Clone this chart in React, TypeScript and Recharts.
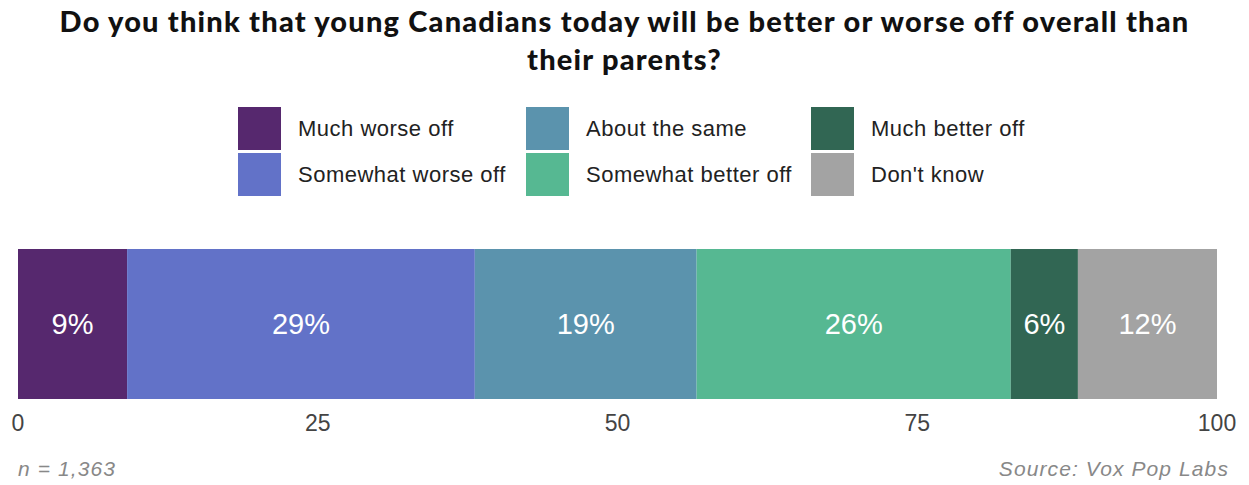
import React from 'react';
import { BarChart, Bar, XAxis, YAxis, LabelList, Legend } from 'recharts';

// Data
const categories = ['All respondents'];
const seriesNames = [
  'Much worse off',
  'Somewhat worse off',
  'About the same',
  'Somewhat better off',
  'Much better off',
  "Don't know",
];
const seriesKeys = ['muchWorse', 'somewhatWorse', 'same', 'somewhatBetter', 'muchBetter', 'dontKnow'];
const seriesValues = [9.1, 29.0, 18.5, 26.2, 5.6, 11.6];
const seriesColors = ['#56286e', '#6272c8', '#5b93ad', '#56b892', '#316653', '#a3a3a3'];
const xTicks = [0, 25, 50, 75, 100];

const title = 'Do you think that young Canadians today will be better or worse off overall than their parents?';
const noteLeft = 'n = 1,363';
const noteRight = 'Source: Vox Pop Labs';

const data = categories.map((c) => {
  const row: Record<string, any> = { name: c };
  seriesKeys.forEach((k, i) => {
    row[k] = seriesValues[i];
  });
  return row;
});

const LABEL_FONT = '"Liberation Sans", Arial, sans-serif';

const LegendContent = (props: any) => {
  const payload = [...(props.payload || [])].sort(
    (a: any, b: any) => seriesNames.indexOf(a.value) - seriesNames.indexOf(b.value)
  );
  return (
    <div
      style={{
        display: 'grid',
        gridTemplateRows: '43px 43px',
        gridTemplateColumns: '288px 285px 220px',
        gridAutoFlow: 'column',
        rowGap: 3,
        marginLeft: 238,
      }}
    >
      {payload.map((p: any, i: number) => (
        <div key={i} style={{ display: 'flex', alignItems: 'center' }}>
          <div style={{ width: 43, height: 43, background: p.color, flex: '0 0 43px' }} />
          <span
            style={{
              marginLeft: 17,
              fontFamily: LABEL_FONT,
              fontSize: 22,
              letterSpacing: 0.5,
              color: '#222',
              whiteSpace: 'nowrap',
            }}
          >
            {p.value}
          </span>
        </div>
      ))}
    </div>
  );
};

export default function App() {
  return (
    <div
      style={{
        position: 'absolute',
        left: 0,
        top: 0,
        width: 1249,
        height: 485,
        background: '#fff',
        overflow: 'hidden',
      }}
    >
      <div
        style={{
          position: 'absolute',
          top: 2,
          left: 40,
          width: 1169,
          textAlign: 'center',
          fontFamily: 'Lato, sans-serif',
          fontWeight: 900,
          fontSize: 29,
          letterSpacing: 1.2,
          lineHeight: '38px',
          color: '#111',
        }}
      >
        {title}
      </div>
      <div style={{ position: 'absolute', left: 0, top: 0 }}>
        <BarChart
          width={1249}
          height={485}
          data={data}
          layout="vertical"
          margin={{ top: 249, right: 32, bottom: 56, left: 18 }}
          barCategoryGap={0}
        >
          <XAxis
            type="number"
            domain={[0, 100]}
            ticks={xTicks}
            axisLine={false}
            tickLine={false}
            tickMargin={10}
            tick={{ fill: '#444', fontSize: 23, fontFamily: LABEL_FONT }}
            interval={0}
          />
          <YAxis type="category" dataKey="name" hide />
          <Legend
            layout="vertical"
            align="center"
            verticalAlign="middle"
            wrapperStyle={{ top: 107, left: 0, width: 1249 }}
            content={<LegendContent />}
          />
          {seriesKeys.map((k, i) => (
            <Bar
              key={k}
              dataKey={k}
              name={seriesNames[i]}
              stackId="a"
              fill={seriesColors[i]}
              isAnimationActive={false}
            >
              <LabelList
                dataKey={k}
                position="center"
                fill="#fff"
                fontSize={29}
                fontFamily={LABEL_FONT}
                formatter={(v: any) => `${Math.round(Number(v))}%`}
              />
            </Bar>
          ))}
        </BarChart>
      </div>
      <div
        style={{
          position: 'absolute',
          left: 18,
          top: 458,
          fontFamily: LABEL_FONT,
          fontStyle: 'italic',
          fontSize: 21,
          letterSpacing: 1.1,
          lineHeight: '21px',
          color: '#888',
        }}
      >
        {noteLeft}
      </div>
      <div
        style={{
          position: 'absolute',
          right: 20,
          top: 458,
          fontFamily: LABEL_FONT,
          fontStyle: 'italic',
          fontSize: 21,
          letterSpacing: 1.1,
          lineHeight: '21px',
          color: '#888',
        }}
      >
        {noteRight}
      </div>
    </div>
  );
}
